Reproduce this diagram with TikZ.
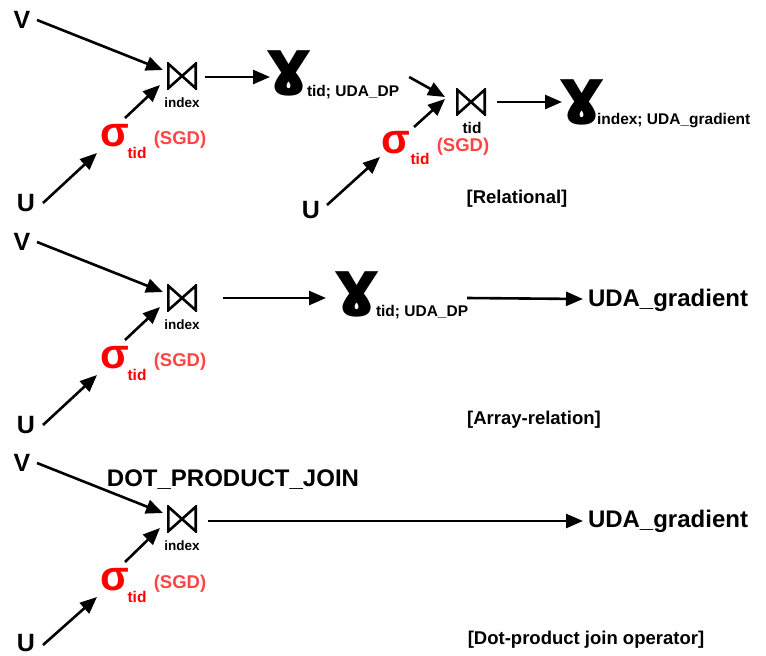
\documentclass[tikz,border=0pt]{standalone}
\usepackage{fontspec}
\setmainfont{Liberation Sans}
\newfontfamily\gamfont{DejaVu Sans}
\usetikzlibrary{arrows.meta,calc}
\definecolor{sred}{HTML}{FF0000}
\definecolor{sgdred}{HTML}{FF4444}
\newcommand{\fsz}[1]{\fontsize{#1}{#1}\selectfont}
\newcommand{\gamglyph}{\scalebox{1.22}[1]{ɣ}}
\begin{document}
\begin{tikzpicture}[x=1pt,y=-1pt,
  every node/.style={inner sep=0pt,outer sep=0pt},
  arr/.style={line width=2.6pt,-{Triangle[length=17pt,width=14pt]}},
  rel/.style={font=\fsz{25}\bfseries},
  gam/.style={font=\gamfont\fsz{60}\bfseries},
  sig/.style={font=\fsz{42}\bfseries,text=sred},
  sub/.style={font=\fsz{15.5}\bfseries},
  small/.style={font=\fsz{13.5}\bfseries},
  sgd/.style={font=\fsz{18.5}\bfseries,text=sgdred},
  panellbl/.style={font=\fsz{18.5}\bfseries},
  big/.style={font=\fsz{24}\bfseries,anchor=west},
  bowtie/.style={minimum width=30pt,minimum height=27pt,
    path picture={\draw[line width=2.6pt]
      ([shift={(1.3,1.3)}]path picture bounding box.north west) --
      ([shift={(-1.3,-1.3)}]path picture bounding box.south east) --
      ([shift={(-1.3,1.3)}]path picture bounding box.north east) --
      ([shift={(1.3,-1.3)}]path picture bounding box.south west) -- cycle;}}]
\useasboundingbox (0,0) rectangle (766,656);

% ---------- Panel 1: Relational ----------
\node[rel] (V1) at (22,20) {V};
\node[rel] (U1) at (26,203) {U};
\node[bowtie] (J1) at (182,76) {};
\node[small] (i1) at (182,103) {index};
\node[sig] (S1) at (115,136) {σ};
\node[sub,text=sred] (t1) at ($(S1)+(22,17)$) {tid};
\node[sgd] (g1) at ($(S1)+(65,4)$) {(SGD)};
\node[gam] (G1) at (289,73) {\gamglyph};
\node[sub,anchor=west] (L1) at (307,92) {tid; UDA\_DP};
\draw[arr] ($(V1)+(15,0)$) -- ($(J1)+(-19,-6)$);
\draw[arr] ($(U1)+(17,0)$) -- ($(S1)+(-18,17)$);
\draw[arr] ($(S1)+(10,-18)$) -- ($(J1)+(-22,9)$);
\draw[arr] ($(J1)+(23,1)$) -- ($(G1)+(-19,4)$);

\node[bowtie] (J2) at (471,102) {};
\node[sub] (i2) at (472,128) {tid};
\node[sig] (S2) at (396,143) {σ};
\node[sub,text=sred] (t2) at ($(S2)+(24,16)$) {tid};
\node[sgd] (g2) at ($(S2)+(67,4)$) {(SGD)};
\node[rel] (U2) at (311,210) {U};
\node[gam] (G2) at (582,102) {\gamglyph};
\node[sub,anchor=west] (L2) at (597,121) {index; UDA\_gradient};
\node[panellbl] (c1) at (517,199) {[Relational]};
\draw[arr] ($(L1.east)+(10,-15)$) -- ($(J2)+(-26,-5)$);
\draw[arr] ($(U2)+(16,-5)$) -- ($(S2)+(-16,14)$);
\draw[arr] ($(S2)+(18,-16)$) -- ($(J2)+(-26,-3)$);
\draw[arr] ($(J2)+(26,0)$) -- ($(G2)+(-20,0)$);

% ---------- Panel 2: Array-relation ----------
\node[rel] (V3) at (22,242) {V};
\node[rel] (U3) at (26,425) {U};
\node[bowtie] (J3) at (182,298) {};
\node[small] (i3) at (182,325) {index};
\node[sig] (S3) at (115,358) {σ};
\node[sub,text=sred] (t3) at ($(S3)+(22,17)$) {tid};
\node[sgd] (g3) at ($(S3)+(65,4)$) {(SGD)};
\node[gam] (G3) at (357,294) {\gamglyph};
\node[sub,anchor=west] (L3) at (376,312) {tid; UDA\_DP};
\node[big] (R3) at (588,300) {UDA\_gradient};
\node[panellbl] (c2) at (534,420) {[Array-relation]};
\draw[arr] ($(V3)+(15,0)$) -- ($(J3)+(-19,-6)$);
\draw[arr] ($(U3)+(17,0)$) -- ($(S3)+(-18,17)$);
\draw[arr] ($(S3)+(10,-18)$) -- ($(J3)+(-22,9)$);
\draw[arr] ($(J3)+(41,0)$) -- ($(G3)+(-31,4)$);
\draw[arr] ($(L3.east)+(-1,-14)$) -- ($(R3.west)+(-5,-1)$);

% ---------- Panel 3: Dot-product join operator ----------
\node[rel] (V5) at (22,463) {V};
\node[rel] (U5) at (26,643) {U};
\node[bowtie] (J5) at (182,519) {};
\node[small] (i5) at (182,546) {index};
\node[sig] (S5) at (115,580) {σ};
\node[sub,text=sred] (t5) at ($(S5)+(22,17)$) {tid};
\node[sgd] (g5) at ($(S5)+(65,4)$) {(SGD)};
\node[big,anchor=center] (D5) at (233,480) {DOT\_PRODUCT\_JOIN};
\node[big] (R5) at (588,521) {UDA\_gradient};
\node[panellbl] (c3) at (586,640) {[Dot-product join operator]};
\draw[arr] ($(V5)+(15,0)$) -- ($(J5)+(-19,-6)$);
\draw[arr] ($(U5)+(17,2)$) -- ($(S5)+(-18,17)$);
\draw[arr] ($(S5)+(10,-18)$) -- ($(J5)+(-22,9)$);
\draw[arr] ($(J5)+(26,2)$) -- ($(R5.west)+(-5,0)$);
\end{tikzpicture}
\end{document}
